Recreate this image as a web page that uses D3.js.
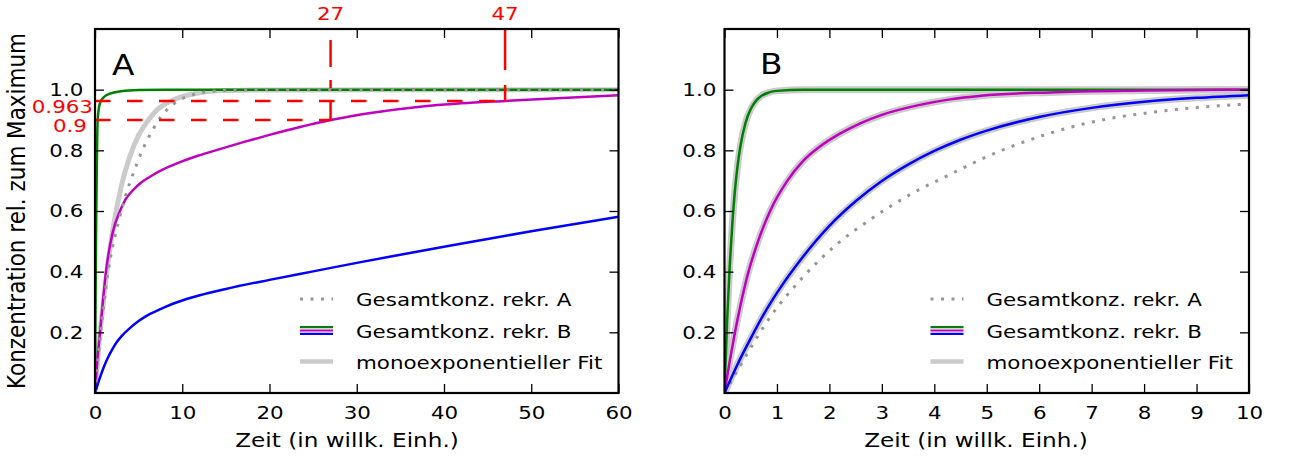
<!DOCTYPE html>
<html>
<head>
<meta charset="utf-8">
<script src="https://cdnjs.cloudflare.com/ajax/libs/d3/7.8.5/d3.min.js"></script>
<style>
  body { margin: 0; background: #fff; }
  svg text { font-family: "DejaVu Sans", sans-serif; fill: #000; }
</style>
</head>
<body>
<svg id="chart" width="1294" height="459"></svg>
<script>
// ---- data: [time, relative concentration] ----
const yTicks = [0.2, 0.4, 0.6, 0.8, 1.0];
const xTicksA = [0, 10, 20, 30, 40, 50, 60];
const xTicksB = [0, 1, 2, 3, 4, 5, 6, 7, 8, 9, 10];
const panelLetters = ["A", "B"];
const legendLabels = ["Gesamtkonz. rekr. A", "Gesamtkonz. rekr. B", "monoexponentieller Fit"];
const xLabel = "Zeit (in willk. Einh.)";
const yLabel = "Konzentration rel. zum Maximum";

// marked times and levels in panel A
const markTimes = [27, 47];
const markLevels = [0.9, 0.963];

// panel A
const greenA = [[0,0],[0.05,0.25],[0.1,0.45],[0.15,0.6],[0.2,0.72],[0.25,0.83],[0.3,0.895],[0.4,0.93],[0.6,0.958],[1,0.975],[1.7,0.987],[3,0.995],[5,0.999],[8,1.0],[60,1.0]];
const magentaA = [[0,0],[0.25,0.1],[0.57,0.2],[0.9,0.3],[1.26,0.4],[2,0.526],[2.86,0.6],[3.5,0.638],[4.4,0.67],[5.3,0.694],[6.3,0.713],[7.8,0.737],[9.4,0.757],[11.8,0.782],[14.3,0.804],[17,0.827],[20,0.851],[23.5,0.877],[27,0.9],[32,0.925],[37,0.943],[42,0.955],[47,0.963],[53,0.972],[60,0.982]];
const blueA = [[0,0],[0.5,0.045],[1,0.085],[1.5,0.118],[2,0.145],[2.5,0.168],[3,0.186],[4,0.214],[5,0.237],[6,0.256],[7,0.27],[8,0.283],[9,0.295],[10,0.305],[12,0.322],[15,0.343],[20,0.373],[25,0.401],[30,0.429],[35,0.456],[40,0.482],[45,0.508],[50,0.533],[55,0.557],[60,0.581]];
const totalA = [[0,0],[0.5,0.16],[1,0.29],[1.5,0.4],[2,0.48],[2.7,0.565],[3.5,0.65],[4.4,0.725],[5.2,0.785],[6,0.835],[6.7,0.872],[7.6,0.912],[8.8,0.948],[10,0.97],[11.7,0.987],[14,0.996],[20,1.0],[60,1.0]];
const fitA = [[0,0],[0.5,0.17],[1,0.31],[1.5,0.43],[2,0.53],[3,0.68],[4,0.78],[5,0.85],[6,0.895],[7,0.93],[8,0.952],[9,0.967],[10,0.977],[12,0.99],[15,0.997],[20,0.999],[60,1.0]];

// panel B
const greenB = [[0,0],[0.05,0.24],[0.1,0.42],[0.15,0.56],[0.2,0.67],[0.25,0.75],[0.3,0.81],[0.4,0.89],[0.5,0.936],[0.6,0.963],[0.7,0.979],[0.85,0.991],[1,0.996],[1.5,1.0],[10,1.0]];
const magentaB = [[0,0],[0.1,0.105],[0.2,0.2],[0.3,0.285],[0.45,0.395],[0.6,0.48],[0.87,0.6],[1.2,0.7],[1.5,0.765],[1.8,0.81],[2.2,0.855],[2.6,0.89],[3,0.917],[3.7,0.949],[4.3,0.968],[4.9,0.98],[6.2,0.991],[8,0.997],[10,1.0]];
const blueB = [[0,0],[0.25,0.095],[0.5,0.18],[0.75,0.26],[1,0.33],[1.5,0.45],[2,0.551],[2.5,0.632],[3,0.699],[3.5,0.753],[4,0.798],[4.5,0.835],[5,0.865],[6,0.91],[7,0.94],[8,0.96],[9,0.973],[10,0.982]];
const totalB = [[0,0],[0.3,0.09],[0.87,0.25],[1.5,0.383],[2.14,0.49],[2.78,0.572],[3.6,0.66],[4.27,0.718],[4.91,0.772],[5.54,0.817],[6.18,0.855],[6.82,0.886],[7.45,0.908],[8.09,0.924],[8.73,0.937],[10,0.953]];

// ---- styling ----
const COL = { green: "#008000", magenta: "#bf00bf", blue: "#0000ff", red: "#ff0000", fit: "#cbcbcb", total: "#969696" };
const SX = 1.17;            // horizontal glyph stretch
const FS = 18.3;            // tick / legend font size
const FL = 19.8;            // axis label font size

const svg = d3.select("#chart");
const plotTop = 29, plotBottom = 393;
const y = d3.scaleLinear([0, 1.2], [plotBottom, plotTop]);

const panels = [
  { letter: panelLetters[0], ticks: xTicksA, x: d3.scaleLinear([0, 60], [95, 618.5]),
    letterPos: [112, 75], xLabelX: 347,
    fits: [{ data: fitA, w: 5 }],
    curves: [{ data: greenA, c: COL.green }, { data: magentaA, c: COL.magenta }, { data: blueA, c: COL.blue }],
    total: totalA },
  { letter: panelLetters[1], ticks: xTicksB, x: d3.scaleLinear([0, 10], [724.5, 1249]),
    letterPos: [760, 74], xLabelX: 976,
    fits: [{ data: greenB, w: 7 }, { data: magentaB, w: 7 }, { data: blueB, w: 7 }],
    curves: [{ data: greenB, c: COL.green }, { data: magentaB, c: COL.magenta }, { data: blueB, c: COL.blue }],
    total: totalB }
];

// dash patterns of the two vertical marker lines, drawn from the top edge downwards
const vDash = ["0,11,27,13,8,12,22,100", "41,15,20,100"];

function stretchText(sel) {
  sel.each(function () {
    const t = d3.select(this);
    const x = +t.attr("x") || 0, yy = +t.attr("y") || 0;
    t.attr("x", 0).attr("y", 0).attr("transform", `translate(${x},${yy}) scale(${SX},1)`);
  });
}

panels.forEach((p, i) => {
  const x = p.x;
  const [x0, x1] = x.range();
  const g = svg.append("g");
  const clipId = "clip" + i;
  svg.append("clipPath").attr("id", clipId)
    .append("rect").attr("x", x0).attr("y", plotTop).attr("width", x1 - x0).attr("height", plotBottom - plotTop);

  const line = d3.line().x(d => x(d[0])).y(d => y(d[1])).curve(d3.curveMonotoneX);
  const plot = g.append("g").attr("clip-path", `url(#${clipId})`);

  p.fits.forEach(f => plot.append("path").attr("d", line(f.data)).attr("fill", "none")
    .attr("stroke", COL.fit).attr("stroke-width", f.w).attr("stroke-linejoin", "round"));
  if (i === 1) {
    plot.append("path").attr("d", line(p.total)).attr("fill", "none")
      .attr("stroke", COL.total).attr("stroke-width", 3).attr("stroke-dasharray", "3,7.5");
  }
  p.curves.forEach(c => plot.append("path").attr("d", line(c.data)).attr("fill", "none")
    .attr("stroke", c.c).attr("stroke-width", 2.5).attr("stroke-linejoin", "round"));
  if (i === 0) {
    plot.append("path").attr("d", line(p.total)).attr("fill", "none")
      .attr("stroke", COL.total).attr("stroke-width", 3).attr("stroke-dasharray", "3,7.5");
  }

  // red markers in panel A
  if (i === 0) {
    const red = g.append("g");
    markTimes.forEach((t, k) => {
      const lv = markLevels[k];
      red.append("line").attr("x1", x(0)).attr("x2", x(t)).attr("y1", y(lv)).attr("y2", y(lv))
        .attr("stroke", COL.red).attr("stroke-width", 2.5).attr("stroke-dasharray", "15.5,16.5");
      red.append("line").attr("x1", x(t)).attr("x2", x(t)).attr("y1", y(1.2)).attr("y2", y(lv))
        .attr("stroke", COL.red).attr("stroke-width", 2.5).attr("stroke-dasharray", vDash[k]);
      red.append("text").attr("x", x(t)).attr("y", 20).attr("text-anchor", "middle")
        .attr("font-size", FS).style("fill", COL.red).text(t).call(stretchText);
    });
    red.append("text").attr("x", 93).attr("y", 113).attr("text-anchor", "end")
      .attr("font-size", FS).style("fill", COL.red).text(markLevels[1]).call(stretchText);
    red.append("text").attr("x", 87).attr("y", 131.5).attr("text-anchor", "end")
      .attr("font-size", FS).style("fill", COL.red).text(markLevels[0]).call(stretchText);
  }

  // axes with inward ticks on all four sides
  const ax = g.append("g");
  const bx = ax.append("g").attr("transform", `translate(0,${plotBottom})`)
    .call(d3.axisBottom(x).tickValues(p.ticks).tickSizeInner(-9).tickSizeOuter(0).tickPadding(13).tickFormat(d3.format("d")));
  bx.selectAll(".tick text").attr("font-size", FS).attr("font-family", "DejaVu Sans")
    .attr("transform", `scale(${SX},1)`);
  ax.append("g").attr("transform", `translate(0,${plotTop})`)
    .call(d3.axisTop(x).tickValues(p.ticks).tickSizeInner(-9).tickSizeOuter(0).tickFormat(""));
  const ly = ax.append("g").attr("transform", `translate(${x0},0)`)
    .call(d3.axisLeft(y).tickValues(yTicks).tickSizeInner(-9).tickSizeOuter(0).tickPadding(i === 0 ? 10 : 7).tickFormat(d3.format(".1f")));
  ly.selectAll(".tick text").attr("font-size", FS).attr("font-family", "DejaVu Sans")
    .attr("transform", `scale(${SX},1)`);
  ax.append("g").attr("transform", `translate(${x1},0)`)
    .call(d3.axisRight(y).tickValues(yTicks).tickSizeInner(-9).tickSizeOuter(0).tickFormat(""));
  ax.selectAll(".domain").remove();
  ax.selectAll(".tick line").attr("stroke", "#000").attr("stroke-width", 1.3);
  g.append("rect").attr("x", x0).attr("y", plotTop).attr("width", x1 - x0).attr("height", plotBottom - plotTop)
    .attr("fill", "none").attr("stroke", "#000").attr("stroke-width", 2.2);

  // panel letter
  g.append("text").attr("x", p.letterPos[0]).attr("y", p.letterPos[1]).attr("font-size", 28)
    .text(p.letter).call(stretchText);

  // x axis label
  g.append("text").attr("x", p.xLabelX).attr("y", 447).attr("text-anchor", "middle")
    .attr("font-size", FL).text(xLabel).call(stretchText);

  // legend
  const lx = x1 - 318.5, tx = x1 - 262.5;
  const rows = [299, 330.5, 361.5];
  const lg = g.append("g");
  lg.append("line").attr("x1", lx).attr("x2", lx + 33).attr("y1", rows[0]).attr("y2", rows[0])
    .attr("stroke", COL.total).attr("stroke-width", 3).attr("stroke-dasharray", "3,7.5");
  [[COL.green, -3.3], [COL.magenta, 0], [COL.blue, 3.3]].forEach(([c, dy]) =>
    lg.append("line").attr("x1", lx).attr("x2", lx + 33).attr("y1", rows[1] + dy).attr("y2", rows[1] + dy)
      .attr("stroke", c).attr("stroke-width", 2.2));
  lg.append("line").attr("x1", lx).attr("x2", lx + 33).attr("y1", rows[2]).attr("y2", rows[2])
    .attr("stroke", COL.fit).attr("stroke-width", 4.5);
  legendLabels.forEach((s, k) => lg.append("text").attr("x", tx).attr("y", rows[k] + 7)
    .attr("font-size", FS).text(s).call(stretchText));
});

// y axis label
svg.append("text").attr("text-anchor", "middle").attr("font-size", 21.5)
  .attr("transform", `translate(25,211) scale(${SX},1) rotate(-90)`)
  .text(yLabel);
</script>
</body>
</html>
